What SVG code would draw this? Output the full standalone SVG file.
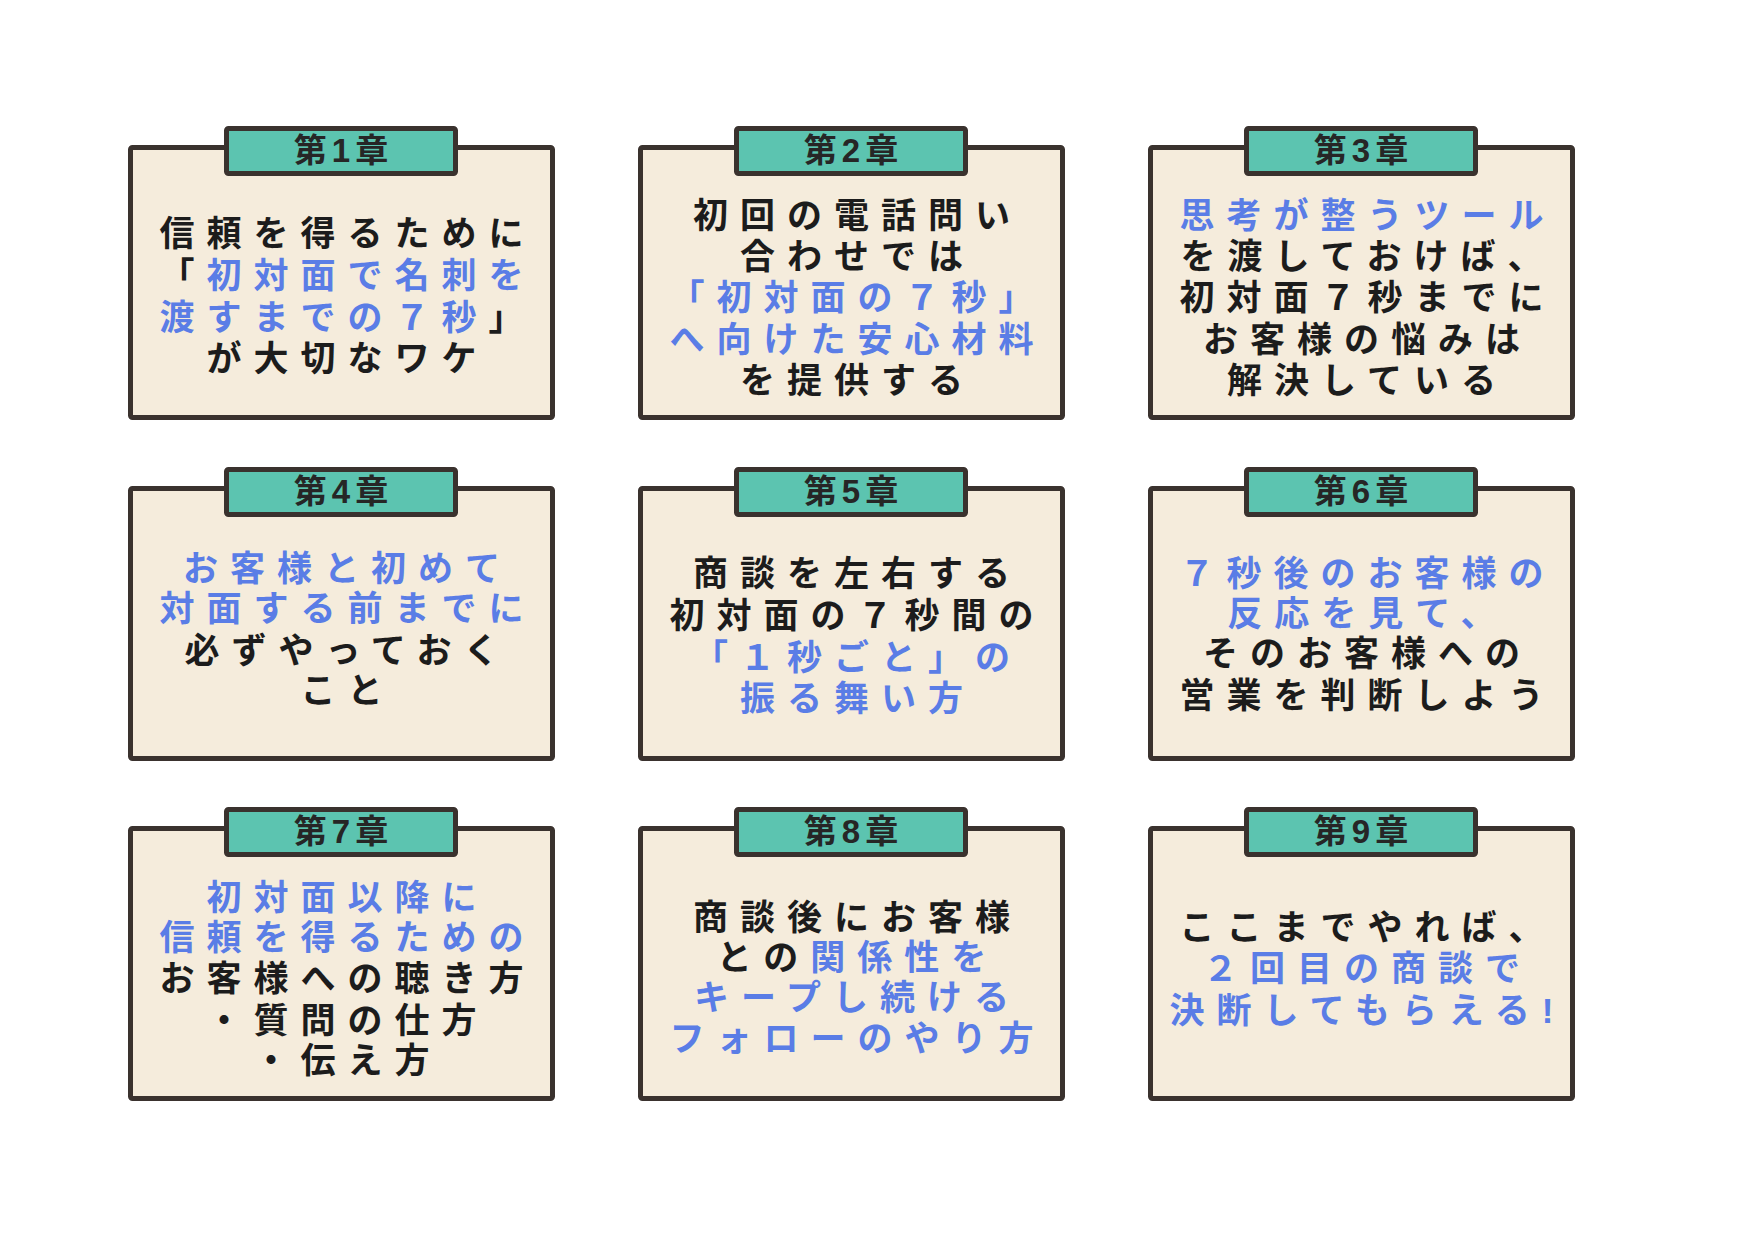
<svg xmlns="http://www.w3.org/2000/svg" width="1755" height="1241" viewBox="0 0 1755 1241">
<style>
.box{fill:#f5ecdc;stroke:#3a322e;stroke-width:5}
.tab{fill:#5cc4b0;stroke:#3a322e;stroke-width:5}
.ttl{font-family:"Liberation Sans","Noto Sans CJK JP",sans-serif;font-weight:700;font-size:33px;fill:#262626;text-anchor:middle;letter-spacing:5px}
.t{font-family:"Liberation Sans","Noto Sans CJK JP",sans-serif;font-weight:700;font-size:35px;fill:#1c1c1c;text-anchor:middle;letter-spacing:12px}
.b{fill:#5a7de6}
</style>
<rect x="0" y="0" width="1755" height="1241" fill="#ffffff"/>

<g id="ch1">
<rect class="box" x="130.5" y="147.5" width="422" height="270" rx="2"/>
<rect class="tab" x="226.5" y="128.5" width="229" height="45" rx="2"/>
<text class="ttl" x="343.5" y="162">第1章</text>
<text class="t" x="347.5" y="246">信頼を得るために</text>
<text class="t" x="347.5" y="288">「<tspan class="b">初対面で名刺を</tspan></text>
<text class="t" x="347.5" y="330"><tspan class="b">渡すまでの７秒</tspan>」</text>
<text class="t" x="347.5" y="371">が大切なワケ</text>
</g>

<g id="ch2">
<rect class="box" x="640.5" y="147.5" width="422" height="270" rx="2"/>
<rect class="tab" x="736.5" y="128.5" width="229" height="45" rx="2"/>
<text class="ttl" x="853.5" y="162">第2章</text>
<text class="t" x="857.5" y="228">初回の電話問い</text>
<text class="t" x="857.5" y="269">合わせでは</text>
<text class="t b" x="857.5" y="310">「初対面の７秒」</text>
<text class="t b" x="857.5" y="352">へ向けた安心材料</text>
<text class="t" x="857.5" y="393">を提供する</text>
</g>

<g id="ch3">
<rect class="box" x="1150.5" y="147.5" width="422" height="270" rx="2"/>
<rect class="tab" x="1246.5" y="128.5" width="229" height="45" rx="2"/>
<text class="ttl" x="1363.5" y="162">第3章</text>
<text class="t b" x="1367.5" y="228">思考が整うツール</text>
<text class="t" x="1367.5" y="269">を渡しておけば、</text>
<text class="t" x="1367.5" y="310">初対面７秒までに</text>
<text class="t" x="1367.5" y="352">お客様の悩みは</text>
<text class="t" x="1367.5" y="393">解決している</text>
</g>

<g id="ch4">
<rect class="box" x="130.5" y="488.5" width="422" height="270" rx="2"/>
<rect class="tab" x="226.5" y="469.5" width="229" height="45" rx="2"/>
<text class="ttl" x="343.5" y="503">第4章</text>
<text class="t b" x="347.5" y="581">お客様と初めて</text>
<text class="t b" x="347.5" y="621">対面する前までに</text>
<text class="t" x="347.5" y="663">必ずやっておく</text>
<text class="t" x="347.5" y="703">こと</text>
</g>

<g id="ch5">
<rect class="box" x="640.5" y="488.5" width="422" height="270" rx="2"/>
<rect class="tab" x="736.5" y="469.5" width="229" height="45" rx="2"/>
<text class="ttl" x="853.5" y="503">第5章</text>
<text class="t" x="857.5" y="586">商談を左右する</text>
<text class="t" x="857.5" y="628">初対面の７秒間の</text>
<text class="t b" x="857.5" y="670">「１秒ごと」の</text>
<text class="t b" x="857.5" y="711">振る舞い方</text>
</g>

<g id="ch6">
<rect class="box" x="1150.5" y="488.5" width="422" height="270" rx="2"/>
<rect class="tab" x="1246.5" y="469.5" width="229" height="45" rx="2"/>
<text class="ttl" x="1363.5" y="503">第6章</text>
<text class="t b" x="1367.5" y="586">７秒後のお客様の</text>
<text class="t b" x="1367.5" y="626">反応を見て、</text>
<text class="t" x="1367.5" y="666">そのお客様への</text>
<text class="t" x="1367.5" y="708">営業を判断しよう</text>
</g>

<g id="ch7">
<rect class="box" x="130.5" y="828.5" width="422" height="270" rx="2"/>
<rect class="tab" x="226.5" y="809.5" width="229" height="45" rx="2"/>
<text class="ttl" x="343.5" y="843">第7章</text>
<text class="t b" x="347.5" y="910">初対面以降に</text>
<text class="t b" x="347.5" y="950">信頼を得るための</text>
<text class="t" x="347.5" y="991">お客様への聴き方</text>
<text class="t" x="347.5" y="1033">・質問の仕方</text>
<text class="t" x="347.5" y="1073">・伝え方</text>
</g>

<g id="ch8">
<rect class="box" x="640.5" y="828.5" width="422" height="270" rx="2"/>
<rect class="tab" x="736.5" y="809.5" width="229" height="45" rx="2"/>
<text class="ttl" x="853.5" y="843">第8章</text>
<text class="t" x="857.5" y="930">商談後にお客様</text>
<text class="t" x="857.5" y="970">との<tspan class="b">関係性を</tspan></text>
<text class="t b" x="857.5" y="1010">キープし続ける</text>
<text class="t b" x="857.5" y="1051">フォローのやり方</text>
</g>

<g id="ch9">
<rect class="box" x="1150.5" y="828.5" width="422" height="270" rx="2"/>
<rect class="tab" x="1246.5" y="809.5" width="229" height="45" rx="2"/>
<text class="ttl" x="1363.5" y="843">第9章</text>
<text class="t" x="1367.5" y="940">ここまでやれば、</text>
<text class="t b" x="1367.5" y="981">２回目の商談で</text>
<text class="t b" x="1367.5" y="1023">決断してもらえる!</text>
</g>
</svg>
